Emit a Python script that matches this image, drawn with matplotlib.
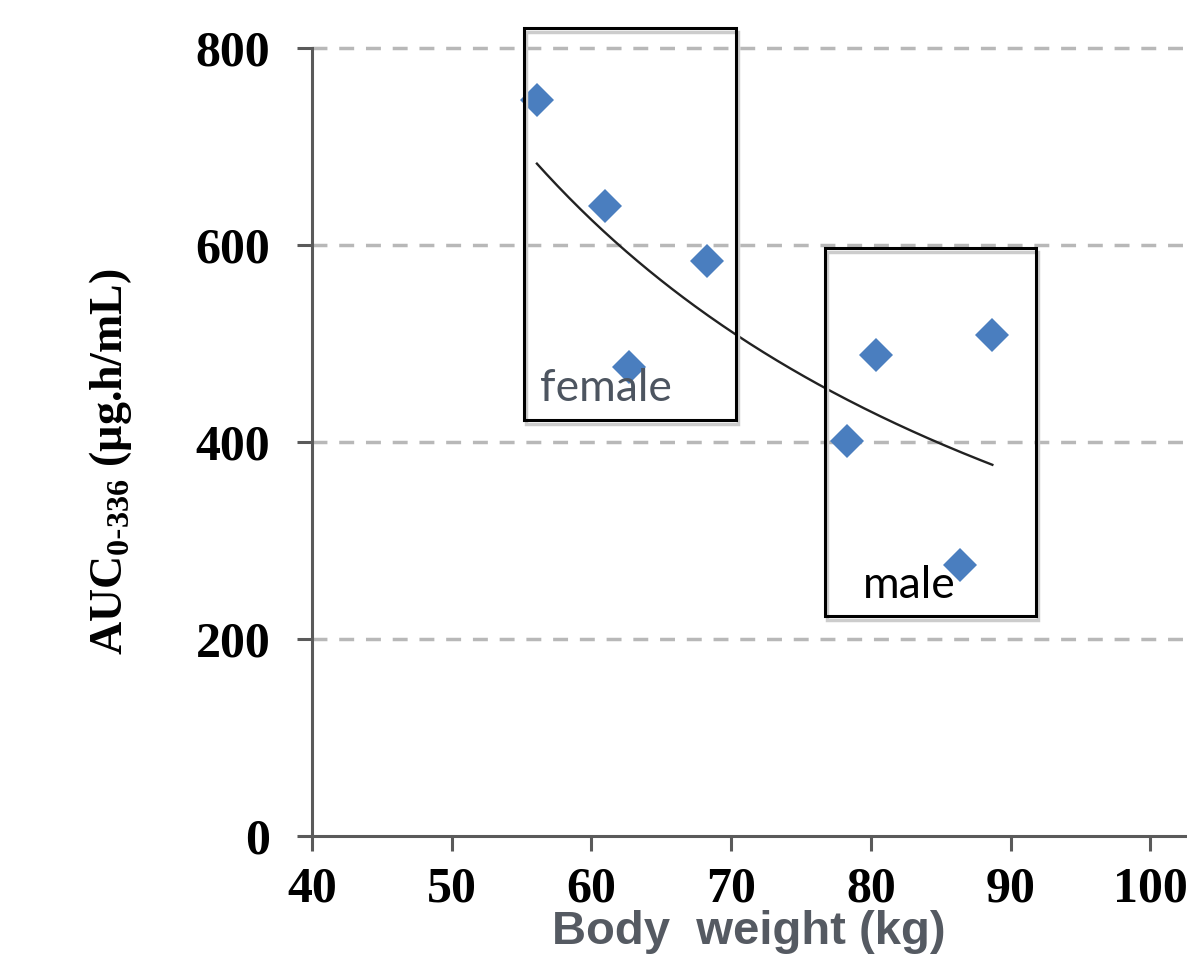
import numpy as np
import matplotlib
matplotlib.use('Agg')
import matplotlib.pyplot as plt
from matplotlib.patches import Rectangle

# data
body_weight = [56.1, 61.0, 62.7, 68.3, 78.3, 80.4, 86.4, 88.7]
auc = [747, 640, 476, 584, 401, 488, 275, 509]
x_ticks = [40, 50, 60, 70, 80, 90, 100]
y_ticks = [0, 200, 400, 600, 800]

# group boxes (data coords: x0, x1, y0, y1)
female_box = (55.2, 70.35, 422, 820)
male_box = (76.7, 91.8, 223, 597)

fig = plt.figure(figsize=(11.87, 9.57), dpi=100)
ax = fig.add_axes([312 / 1187, 121 / 957, 875 / 1187, 788 / 957])
ax.set_xlim(40, 40 + 875 / 13.97)
ax.set_ylim(0, 800)

# gridlines
for yv in y_ticks[1:]:
    ax.axhline(yv, color='#b8b8b8', lw=2.5, linestyle=(0, (4.3, 3.4)), zorder=1, clip_on=False)

# power trendline (fit like excel)
b, ln_a = np.polyfit(np.log(body_weight), np.log(auc), 1)
xs = np.linspace(min(body_weight), max(body_weight), 200)
ax.plot(xs, np.exp(ln_a) * xs ** b, color='#222222', lw=1.7, zorder=3)

ax.plot(body_weight, auc, linestyle='none', marker='D', markersize=17,
        color='#4a7ebf', markeredgewidth=0, zorder=4)

# boxes
for (x0, x1, y0, y1) in [female_box, male_box]:
    ax.add_patch(Rectangle((x0 + 0.15, y0 - 4), x1 - x0, y1 - y0, fill=False,
                           ec='#cccccc', lw=2.5, clip_on=False, zorder=4))
    ax.add_patch(Rectangle((x0, y0), x1 - x0, y1 - y0, fill=False,
                           ec='black', lw=2.2, clip_on=False, zorder=5))

ax.text(56.3, 442, 'female', family='Lato', fontsize=32, color='#4d5560', zorder=6)
ax.text(79.4, 242, 'male', family='Lato', fontsize=32, color='black', zorder=6)

# axes styling
for s in ['top', 'right']:
    ax.spines[s].set_visible(False)
for s in ['left', 'bottom']:
    ax.spines[s].set_color('#5a5a5a')
    ax.spines[s].set_linewidth(2.2)
ax.set_xticks(x_ticks)
ax.set_yticks(y_ticks)
ax.tick_params(axis='both', direction='out', length=11, width=2.2, color='#5a5a5a',
               labelsize=36, labelcolor='black')
ax.tick_params(axis='y', pad=19)
ax.tick_params(axis='x', pad=11)
for lab in ax.get_xticklabels() + ax.get_yticklabels():
    lab.set_family('Liberation Serif')
    lab.set_fontweight('bold')

fig.text(110 / 1187, 1 - 462 / 957, r'AUC$_{\mathregular{0\text{-}336}}$ (µg.h/mL)',
         family='Liberation Serif', fontweight='bold', fontsize=33,
         rotation=90, ha='center', va='center')
fig.text(749 / 1187, 1 - 932 / 957, 'Body  weight (kg)', family='Liberation Sans',
         fontweight='bold', fontsize=34, color='#555a62', ha='center', va='center')

fig.savefig('out.png', dpi=100)
